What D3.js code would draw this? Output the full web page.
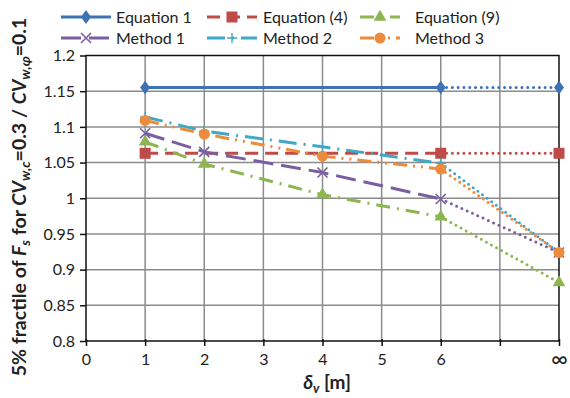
<!DOCTYPE html>
<html>
<head>
<meta charset="utf-8">
<script src="https://cdn.jsdelivr.net/npm/d3@7"></script>
<style>
  body { margin: 0; background: #fff; }
  svg { font-family: Lato, "Liberation Sans", sans-serif; }
</style>
</head>
<body>
<div id="chart"></div>
<script>
// x positions: 0..6 real, 8 stands for infinity
var xTicks = [0, 1, 2, 3, 4, 5, 6, 7, 8];
var xTickLabels = ["0", "1", "2", "3", "4", "5", "6", "", "\u221E"];
var yTicks = [0.8, 0.85, 0.9, 0.95, 1, 1.05, 1.1, 1.15, 1.2];

var eq1X = [1, 6, 8];
var eq1Y = [1.155, 1.155, 1.155];
var eq4X = [1, 6, 8];
var eq4Y = [1.063, 1.063, 1.063];
var fullX = [1, 2, 4, 6, 8];
var eq9Y = [1.079, 1.048, 1.005, 0.974, 0.882];
var m1Y = [1.091, 1.065, 1.036, 0.999, 0.924];
var m2Y = [1.114, 1.094, 1.072, 1.049, 0.924];
var m3Y = [1.109, 1.090, 1.059, 1.041, 0.924];

var seriesNames = ["Equation 1", "Equation (4)", "Equation (9)", "Method 1", "Method 2", "Method 3"];

var series = [
  { name: seriesNames[0], xs: eq1X, ys: eq1Y, color: "#3F72B4", dash: null, marker: "diamond" },
  { name: seriesNames[1], xs: eq4X, ys: eq4Y, color: "#BE4B48", dash: "13,7", marker: "square" },
  { name: seriesNames[2], xs: fullX, ys: eq9Y, color: "#8DB550", dash: "14,7,2,7", marker: "triangle" },
  { name: seriesNames[3], xs: fullX, ys: m1Y, color: "#7A5FA0", dash: "20,8", marker: "x" },
  { name: seriesNames[4], xs: fullX, ys: m2Y, color: "#3FA8C4", dash: "18,7,2,7", marker: "plus" },
  { name: seriesNames[5], xs: fullX, ys: m3Y, color: "#EC8A3E", dash: "14,6,2,6,2,6", marker: "circle" }
];

var W = 570, H = 398;
var plotL = 86, plotR = 559, plotT = 55.5, plotB = 341;

var svg = d3.select("#chart").append("svg")
  .attr("width", W).attr("height", H);

var x = d3.scaleLinear().domain([0, 8]).range([plotL, plotR]);
var y = d3.scaleLinear().domain([0.8, 1.2]).range([plotB, plotT]);

// grid
svg.append("g").selectAll("line").data(yTicks.slice(1, -1)).enter().append("line")
  .attr("x1", plotL).attr("x2", plotR)
  .attr("y1", function (d) { return y(d); }).attr("y2", function (d) { return y(d); })
  .attr("stroke", "#8c8c8c").attr("stroke-width", 1.5);
svg.append("g").selectAll("line").data(xTicks.slice(1, -1)).enter().append("line")
  .attr("y1", plotT).attr("y2", plotB)
  .attr("x1", function (d) { return x(d); }).attr("x2", function (d) { return x(d); })
  .attr("stroke", "#8c8c8c").attr("stroke-width", 1.5);

// frame
svg.append("rect")
  .attr("x", plotL).attr("y", plotT)
  .attr("width", plotR - plotL).attr("height", plotB - plotT)
  .attr("fill", "none").attr("stroke", "#111").attr("stroke-width", 1.5);

// axes
var yAxis = d3.axisLeft(y).tickValues(yTicks).tickSize(6).tickPadding(5)
  .tickFormat(function (d) { return String(+d.toFixed(2)); });
var gy = svg.append("g").attr("transform", "translate(" + plotL + ",0)").call(yAxis);
gy.select(".domain").remove();
gy.selectAll("line").attr("stroke", "#111").attr("stroke-width", 1.5);
gy.selectAll("text").attr("font-size", 16).attr("fill", "#222")
  .attr("font-family", "Lato, sans-serif");

var xAxis = d3.axisBottom(x).tickValues(xTicks).tickSize(5).tickPadding(8)
  .tickFormat(function (d, i) { return xTickLabels[i]; });
var gx = svg.append("g").attr("transform", "translate(0," + plotB + ")").call(xAxis);
gx.select(".domain").remove();
gx.selectAll("line").attr("y1", -2).attr("stroke", "#111").attr("stroke-width", 1.5);
gx.selectAll("text").attr("font-size", 16).attr("fill", "#222")
  .attr("font-family", "Lato, sans-serif");
gx.selectAll("text").filter(function (d) { return d === 8; }).attr("font-size", 23).attr("dy", "0.55em");

// marker drawing
function drawMarker(g, type, cx, cy, color) {
  if (type === "diamond") {
    g.append("path").attr("d", d3.symbol().type(d3.symbolDiamond).size(55)())
      .attr("transform", "translate(" + cx + "," + cy + ") scale(1.25,1)")
      .attr("fill", color);
  } else if (type === "square") {
    g.append("rect").attr("x", cx - 5.5).attr("y", cy - 5.5)
      .attr("width", 11).attr("height", 11).attr("fill", color);
  } else if (type === "triangle") {
    g.append("path").attr("d", d3.symbol().type(d3.symbolTriangle).size(70)())
      .attr("transform", "translate(" + cx + "," + cy + ")").attr("fill", color);
  } else if (type === "x") {
    var r = 5;
    g.append("path").attr("d", "M" + (cx - r) + "," + (cy - r) + "L" + (cx + r) + "," + (cy + r) +
      "M" + (cx - r) + "," + (cy + r) + "L" + (cx + r) + "," + (cy - r))
      .attr("stroke", color).attr("stroke-width", 1.6).attr("fill", "none");
  } else if (type === "plus") {
    var p = 5;
    g.append("path").attr("d", "M" + (cx - p) + "," + cy + "L" + (cx + p) + "," + cy +
      "M" + cx + "," + (cy - p) + "L" + cx + "," + (cy + p))
      .attr("stroke", color).attr("stroke-width", 1.4).attr("fill", "none");
  } else if (type === "circle") {
    g.append("circle").attr("cx", cx).attr("cy", cy).attr("r", 5.5).attr("fill", color);
  }
}

var line = d3.line().x(function (d) { return x(d[0]); }).y(function (d) { return y(d[1]); });

var plot = svg.append("g");
series.forEach(function (s) {
  var pts = s.xs.map(function (v, i) { return [v, s.ys[i]]; });
  var main = pts.filter(function (p) { return p[0] <= 6; });
  var tail = pts.filter(function (p) { return p[0] >= 6; });
  plot.append("path").datum(main).attr("d", line)
    .attr("fill", "none").attr("stroke", s.color).attr("stroke-width", 3)
    .attr("stroke-dasharray", s.dash);
  plot.append("path").datum(tail).attr("d", line)
    .attr("fill", "none").attr("stroke", s.color).attr("stroke-width", 3)
    .attr("stroke-linecap", "round").attr("stroke-dasharray", "0,5.8");
});
series.forEach(function (s) {
  s.xs.forEach(function (v, i) {
    drawMarker(plot, s.marker, x(v), y(s.ys[i]), s.color);
  });
});

// legend
var legCols = [[61, 111, 116], [207, 257, 263], [360, 400, 415]];
var legRows = [17, 38];
var leg = svg.append("g");
series.forEach(function (s, i) {
  var c = legCols[i % 3], r = legRows[Math.floor(i / 3)];
  leg.append("line").attr("x1", c[0]).attr("x2", c[1]).attr("y1", r).attr("y2", r)
    .attr("stroke", s.color).attr("stroke-width", 3)
    .attr("stroke-dasharray", s.dash);
  drawMarker(leg, s.marker, (c[0] + c[1]) / 2, r, s.color);
  leg.append("text").attr("x", c[2]).attr("y", r).attr("dy", "0.35em")
    .attr("font-size", 16).attr("fill", "#222").text(s.name);
});

// axis titles
var xt = svg.append("text").attr("x", 327).attr("y", 389)
  .attr("text-anchor", "middle").attr("font-size", 19).attr("font-weight", "bold").attr("fill", "#222");
xt.append("tspan").attr("font-style", "italic").text("\u03B4");
xt.append("tspan").attr("font-style", "italic").attr("font-size", 13).attr("dy", 4).text("v");
xt.append("tspan").attr("dy", -4).text(" [m]");

var yt = svg.append("text").attr("transform", "translate(26,197) rotate(-90)")
  .attr("text-anchor", "middle").attr("font-size", 19.5).attr("font-weight", "bold").attr("fill", "#222");
yt.append("tspan").text("5% fractile of ");
yt.append("tspan").attr("font-style", "italic").text("F");
yt.append("tspan").attr("font-style", "italic").attr("font-size", 14).attr("dy", 4).text("s");
yt.append("tspan").attr("dy", -4).text(" for ");
yt.append("tspan").attr("font-style", "italic").text("CV");
yt.append("tspan").attr("font-style", "italic").attr("font-size", 14).attr("dy", 4).text("w,c");
yt.append("tspan").attr("dy", -4).text("=0.3 / ");
yt.append("tspan").attr("font-style", "italic").text("CV");
yt.append("tspan").attr("font-style", "italic").attr("font-size", 14).attr("dy", 4).text("w,\u03C6");
yt.append("tspan").attr("dy", -4).text("=0.1");
</script>
</body>
</html>
